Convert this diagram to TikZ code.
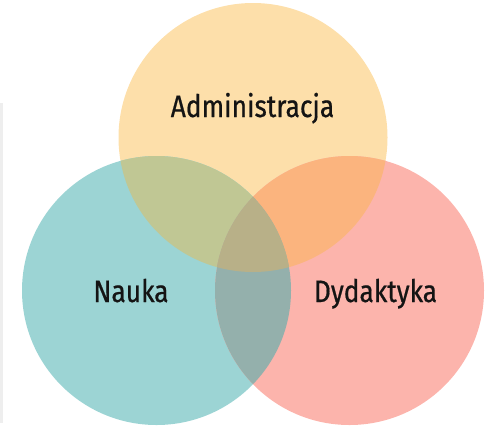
\documentclass[tikz,border=0pt]{standalone}
\usepackage{fontspec}
\setmainfont{Fira Sans}[FakeStretch=0.85,FakeBold=0.6]
\definecolor{cTop}{HTML}{FDDFAA}
\definecolor{cLeft}{HTML}{9CD4D4}
\definecolor{cRight}{HTML}{FCB4AC}
\definecolor{cTL}{HTML}{C0C794}
\definecolor{cTR}{HTML}{FBB47E}
\definecolor{cLR}{HTML}{94B0AC}
\definecolor{cAll}{HTML}{B8B088}
\definecolor{cBar}{HTML}{EEEEEE}
\tikzset{lbl/.style={font=\fontsize{31}{34}\selectfont, text=black!92, anchor=base, inner sep=0pt}}
\begin{document}
\begin{tikzpicture}[x=1pt,y=-1pt]
\useasboundingbox (0,0) rectangle (489,426);
\fill[cBar] (0,103) rectangle (3,423);
\def\topc{(253,137.5) circle (134.5)}
\def\leftc{(156.5,290.5) circle (134.5)}
\def\rightc{(349.5,290.5) circle (134.5)}
\fill[cTop] \topc;
\fill[cLeft] \leftc;
\fill[cRight] \rightc;
\begin{scope}
\clip \topc; \fill[cTL] \leftc;
\end{scope}
\begin{scope}
\clip \topc; \fill[cTR] \rightc;
\end{scope}
\begin{scope}
\clip \leftc; \fill[cLR] \rightc;
\end{scope}
\begin{scope}
\clip \topc; \clip \leftc; \fill[cAll] \rightc;
\end{scope}
\node[lbl] (adm) at (252.5,117) {Administracja};
\node[lbl] (nau) at (131,302) {Nauka};
\node[lbl] (dyd) at (375.5,302) {Dydaktyka};
\end{tikzpicture}
\end{document}
